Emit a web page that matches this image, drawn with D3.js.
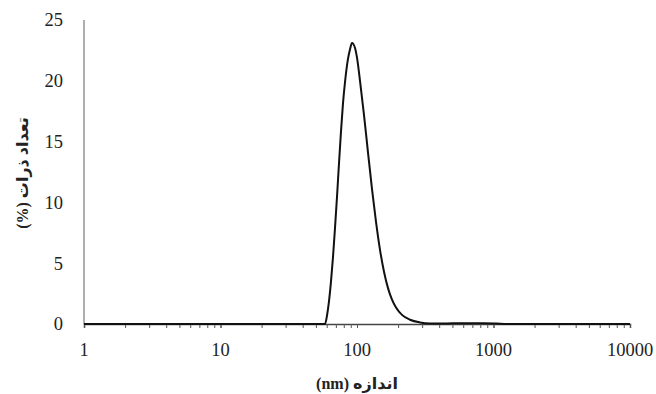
<!DOCTYPE html>
<html>
<head>
<meta charset="utf-8">
<script src="https://cdn.jsdelivr.net/npm/d3@7"></script>
<style>
  body { margin: 0; background: #fff; }
  svg { display: block; }
</style>
</head>
<body>
<svg id="chart"></svg>
<script>
// particle size (nm) and number distribution (%)
const sizes = [1, 50, 58.3, 60.3, 62.4, 64.5, 66.7, 69.0, 71.4, 73.8, 76.3, 78.9, 81.7, 85.9, 88.9, 91.9, 96.7, 100,
  105.2, 112.5, 120.4, 128.8, 137.8, 147.4, 157.7, 168.7, 180.5, 193.1, 213.6, 244.5, 289.4, 342.5, 405.5,
  500, 650, 850, 1050, 1250, 10000];
const counts = [0, 0, 0, 0.7, 1.9, 3.5, 5.5, 7.9, 10.5, 13.2, 15.8, 18.1, 19.9, 21.8, 22.6, 23.1, 22.7, 21.9,
  20.0, 17.2, 14.1, 11.1, 8.4, 6.1, 4.3, 2.95, 2.0, 1.35, 0.75, 0.35, 0.13, 0.05, 0.04,
  0.06, 0.07, 0.07, 0.04, 0, 0];
const xTicks = [1, 10, 100, 1000, 10000];
const yTicks = [0, 5, 10, 15, 20, 25];
const xTitle = 'اندازه (nm)';
const yTitle = 'تعداد ذرات (%)';

const W = 656, H = 394;
const margin = { top: 20, right: 26, bottom: 70, left: 84 };
const width = W - margin.left - margin.right;
const height = H - margin.top - margin.bottom;

const svg = d3.select('#chart').attr('width', W).attr('height', H);
const g = svg.append('g').attr('transform', `translate(${margin.left},${margin.top})`);

const x = d3.scaleLog().domain([1, 10000]).range([0, width]);
const y = d3.scaleLinear().domain([0, 25]).range([height, 0]);

const font = '"Liberation Serif", "Times New Roman", "DejaVu Sans", serif';

// y axis: line only, labels
g.append('line')
  .attr('x1', 0).attr('x2', 0).attr('y1', 0).attr('y2', height)
  .attr('stroke', '#777').attr('stroke-width', 1.2);

g.selectAll('.ylab')
  .data(yTicks)
  .enter().append('text')
  .attr('class', 'ylab')
  .attr('x', -21)
  .attr('y', d => y(d))
  .attr('dy', '0.35em')
  .attr('text-anchor', 'end')
  .attr('font-family', font)
  .attr('font-size', 18.5)
  .attr('fill', '#222')
  .text(d => d);

// x axis with minor ticks
const minor = [];
for (let p = 0; p < 4; p++) {
  for (let k = 1; k <= 10; k++) minor.push(k * Math.pow(10, p));
}

const xAxis = g.append('g')
  .attr('transform', `translate(0,${height})`)
  .call(d3.axisBottom(x).tickValues(minor).tickSize(4).tickFormat(''));
xAxis.select('.domain').attr('stroke', '#444').attr('stroke-width', 1.5);
xAxis.selectAll('.tick line').attr('stroke', '#555').attr('stroke-width', 1);

g.selectAll('.xlab')
  .data(xTicks)
  .enter().append('text')
  .attr('class', 'xlab')
  .attr('x', d => x(d))
  .attr('y', height + 32)
  .attr('text-anchor', 'middle')
  .attr('font-family', font)
  .attr('font-size', 18.5)
  .attr('fill', '#222')
  .text(d => d);

// distribution curve
const pts = sizes.map((s, i) => [s, counts[i]]);
const line = d3.line()
  .x(d => x(d[0]))
  .y(d => y(d[1]))
  .curve(d3.curveMonotoneX);

g.append('path')
  .datum(pts)
  .attr('d', line)
  .attr('fill', 'none')
  .attr('stroke', '#111')
  .attr('stroke-width', 2);

// axis titles
svg.append('text')
  .attr('x', margin.left + x(100))
  .attr('y', 389)
  .attr('text-anchor', 'middle')
  .attr('direction', 'rtl')
  .attr('font-family', font)
  .attr('font-weight', 'bold')
  .attr('font-size', 16)
  .attr('fill', '#222')
  .text(xTitle);

svg.append('text')
  .attr('transform', 'translate(28,173) rotate(-90)')
  .attr('text-anchor', 'middle')
  .attr('direction', 'rtl')
  .attr('font-family', font)
  .attr('font-weight', 'bold')
  .attr('font-size', 16)
  .attr('fill', '#222')
  .text(yTitle);
</script>
</body>
</html>
